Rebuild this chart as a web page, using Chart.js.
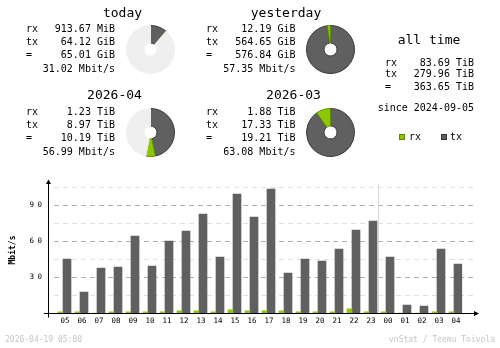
<!DOCTYPE html>
<html>
<head>
<meta charset="utf-8">
<title>vnStat summary</title>
<script src="https://cdn.jsdelivr.net/npm/chart.js@4.4.1/dist/chart.umd.min.js"></script>
<style>
  body { margin: 0; background: #fff; }
  #wrap { position: relative; width: 500px; height: 348px; overflow: hidden;
          font-family: "DejaVu Sans Mono", monospace; color: #000; background: #fff; }
  #hourChart { position: absolute; left: 0; top: 0; }
  .pie { position: absolute; }
  .t { position: absolute; white-space: pre; }
  .key { position: absolute; width: 6px; height: 6px; box-sizing: border-box; border: 1px solid; }
</style>
</head>
<body>
<div id="wrap"><canvas id="hourChart" width="500" height="348"></canvas></div>
<script>
// hourly traffic, last 24 h (Mbit/s)
const hours = ["05", "06", "07", "08", "09", "10", "11", "12", "13", "14", "15", "16",
               "17", "18", "19", "20", "21", "22", "23", "00", "01", "02", "03", "04"];
const rxRate = [0.9, 0.9, 0, 0.9, 0.9, 0.9, 0.9, 1.8, 1.8, 0.9, 2.6, 1.8,
                1.8, 1.8, 0.9, 0.9, 0.9, 3.4, 0.9, 0.9, 0, 0, 0.9, 0.9];
const txRate = [45, 17.5, 37.5, 38.3, 64.2, 39.2, 60, 68.3, 82.5, 46.7, 99.2, 80,
                103.3, 33.3, 45, 43.3, 53.3, 69.2, 76.7, 46.7, 6.7, 5.8, 53.3, 40.8];

// summary blocks
const periodNames = ["today", "yesterday", "2026-04", "2026-03"];
const rxAmounts = [913.67, 12.19, 1.23, 1.88];
const rxUnits = ["MiB", "GiB", "TiB", "TiB"];
const txAmounts = [64.12, 564.65, 8.97, 17.33];
const txUnits = ["GiB", "GiB", "TiB", "TiB"];
const totalAmounts = [65.01, 576.84, 10.19, 19.21];
const totalUnits = ["GiB", "GiB", "TiB", "TiB"];
const avgRates = [31.02, 57.35, 56.99, 63.08];
// period each pie is measured against (null = full circle)
const pieReference = [1, null, 3, null];

const allTimeAmounts = [83.69, 279.96, 363.65];
const allTimeUnit = "TiB";
const sinceDate = "2024-09-05";
const stampText = "2026-04-19 05:00";
const creditText = "vnStat / Teemu Toivola";

const rxColor = "#8cc800", rxEdge = "#5c8a00";
const txColor = "#606060", txEdge = "#383838";
const restColor = "#efefef";
const mono = '"DejaVu Sans Mono", monospace';
const unitScale = { MiB: 1 / 1024, GiB: 1, TiB: 1024 };

const wrap = document.getElementById("wrap");

function text(str, x, y, size, align, color) {
  const el = document.createElement("div");
  el.className = "t";
  el.textContent = str;
  el.style.fontSize = size + "px";
  el.style.lineHeight = size + "px";
  el.style.top = (y - size / 2) + "px";
  if (align === "right") el.style.right = (500 - x) + "px";
  else if (align === "center") {
    el.style.left = (x - 100) + "px";
    el.style.width = "200px";
    el.style.textAlign = "center";
  } else el.style.left = x + "px";
  if (color) el.style.color = color;
  wrap.appendChild(el);
}

function pie(left, top, values, colors, edges) {
  const c = document.createElement("canvas");
  c.width = 51;
  c.height = 51;
  c.className = "pie";
  c.style.left = left + "px";
  c.style.top = top + "px";
  wrap.appendChild(c);
  new Chart(c, {
    type: "doughnut",
    data: {
      datasets: [{ data: values, backgroundColor: colors, borderColor: edges, borderWidth: 1 }],
    },
    options: {
      responsive: false,
      animation: false,
      devicePixelRatio: 1,
      events: [],
      cutout: 6.5,
      layout: { padding: 1 },
      plugins: { legend: { display: false }, tooltip: { enabled: false } },
    },
  });
}

// where each block sits
const blocks = [
  { titleX: 122.5, titleY: 12, labelX: 26, valueX: 115, rowY: 0, pieX: 125, pieY: 24 },
  { titleX: 286, titleY: 12, labelX: 206, valueX: 295.5, rowY: 0, pieX: 305, pieY: 24 },
  { titleX: 114.5, titleY: 94, labelX: 26, valueX: 115, rowY: 83, pieX: 125, pieY: 107 },
  { titleX: 293.5, titleY: 94, labelX: 206, valueX: 295.5, rowY: 83, pieX: 305, pieY: 107 },
];
const rowOffsets = [29, 42, 55, 69];

periodNames.forEach((name, i) => {
  const b = blocks[i];
  text(name, b.titleX, b.titleY, 13, "center");
  const rows = [
    ["rx", rxAmounts[i].toFixed(2) + " " + rxUnits[i]],
    ["tx", txAmounts[i].toFixed(2) + " " + txUnits[i]],
    ["=", totalAmounts[i].toFixed(2) + " " + totalUnits[i]],
    ["", avgRates[i].toFixed(2) + " Mbit/s"],
  ];
  rows.forEach((r, j) => {
    const y = b.rowY + rowOffsets[j];
    if (r[0]) text(r[0], b.labelX, y, 10, "left");
    text(r[1], b.valueX, y, 10, "right");
  });

  const tx = txAmounts[i] * unitScale[txUnits[i]];
  const rx = rxAmounts[i] * unitScale[rxUnits[i]];
  const values = [tx, rx];
  const colors = [txColor, rxColor];
  const edges = [txEdge, rxEdge];
  const ref = pieReference[i];
  if (ref !== null) {
    const refTotal = totalAmounts[ref] * unitScale[totalUnits[ref]];
    values.push(refTotal - totalAmounts[i] * unitScale[totalUnits[i]]);
    colors.push(restColor);
    edges.push(restColor);
  }
  pie(b.pieX, b.pieY, values, colors, edges);
});

// all time column
text("all time", 429, 39, 13, "center");
["rx", "tx", "="].forEach((lab, j) => {
  const y = [62.5, 74, 86.5][j];
  text(lab, 385, y, 10, "left");
  text(allTimeAmounts[j].toFixed(2) + " " + allTimeUnit, 474, y, 10, "right");
});
text("since " + sinceDate, 474, 107.5, 10, "right");

// legend
function key(x, fill, edge) {
  const k = document.createElement("div");
  k.className = "key";
  k.style.left = x + "px";
  k.style.top = "134px";
  k.style.background = fill;
  k.style.borderColor = edge;
  wrap.appendChild(k);
}
key(399, rxColor, rxEdge);
text("rx", 409, 136.5, 10, "left");
key(441, txColor, "#303030");
text("tx", 450, 136.5, 10, "left");

text(stampText, 5, 340, 8, "left", "#c4c4c4");
text(creditText, 495, 340, 8, "right", "#c4c4c4");

// grid, separator, axes with arrows and y labels
const hourDecor = {
  id: "hourDecor",
  beforeDatasetsDraw(chart) {
    const { ctx, scales: { x, y } } = chart;
    ctx.save();
    ctx.lineWidth = 1;
    ctx.setLineDash([5, 4]);
    y.ticks.forEach((t) => {
      if (t.value === 0) return;
      const py = Math.round(y.getPixelForValue(t.value)) + 0.5;
      ctx.strokeStyle = t.value % 30 === 0 ? "#b0b0b0" : "#e0e0e0";
      ctx.beginPath();
      ctx.moveTo(54, py);
      ctx.lineTo(474, py);
      ctx.stroke();
    });
    ctx.setLineDash([]);
    const i = hours.indexOf("00");
    const sx = Math.round(x.getPixelForValue(i) - x.width / hours.length / 2) + 0.5;
    ctx.strokeStyle = "#d8d8d8";
    ctx.beginPath();
    ctx.moveTo(sx, 184);
    ctx.lineTo(sx, y.bottom);
    ctx.stroke();
    ctx.restore();
  },
  afterDatasetsDraw(chart) {
    const { ctx, scales: { y } } = chart;
    const base = Math.round(y.getPixelForValue(0)) + 0.5;
    ctx.save();
    ctx.strokeStyle = "#000";
    ctx.fillStyle = "#000";
    ctx.lineWidth = 1;
    ctx.beginPath();
    ctx.moveTo(48.5, base + 4);
    ctx.lineTo(48.5, 183);
    ctx.moveTo(44, base);
    ctx.lineTo(475, base);
    ctx.stroke();
    ctx.beginPath();
    ctx.moveTo(46, 184);
    ctx.lineTo(51, 184);
    ctx.lineTo(48.5, 179.5);
    ctx.closePath();
    ctx.fill();
    ctx.beginPath();
    ctx.moveTo(474, base - 2.5);
    ctx.lineTo(474, base + 2.5);
    ctx.lineTo(479, base);
    ctx.closePath();
    ctx.fill();

    ctx.font = "7.5px " + mono;
    ctx.letterSpacing = "3.5px";
    ctx.textAlign = "left";
    ctx.textBaseline = "middle";
    y.ticks.forEach((t) => {
      if (t.value === 0 || t.value % 30 !== 0) return;
      ctx.fillText(String(t.value), 29.5, y.getPixelForValue(t.value));
    });
    ctx.restore();
  },
};

new Chart(document.getElementById("hourChart"), {
  type: "bar",
  data: {
    labels: hours,
    datasets: [
      { label: "rx", data: rxRate, backgroundColor: rxColor, barThickness: 5 },
      { label: "tx", data: txRate, backgroundColor: txColor, barThickness: 8 },
    ],
  },
  options: {
    responsive: false,
    animation: false,
    devicePixelRatio: 1,
    events: [],
    layout: { padding: { top: 187, right: 37.5, bottom: 0, left: 0 } },
    scales: {
      x: {
        grid: { display: false, drawTicks: false },
        border: { display: false },
        ticks: {
          color: "#000",
          font: { family: mono, size: 7.5 },
          padding: 4,
          labelOffset: 2,
          maxRotation: 0,
          autoSkip: false,
        },
        afterFit: (s) => { s.height = 35; },
      },
      y: {
        min: 0,
        max: 105,
        ticks: { stepSize: 15, display: false },
        grid: { display: false },
        border: { display: false },
        title: {
          display: true,
          text: "Mbit/s",
          color: "#000",
          font: { family: mono, size: 8, weight: "bold" },
          padding: { top: 8.5, bottom: 0 },
        },
        afterFit: (s) => { s.width = 54.5; },
      },
    },
    plugins: { legend: { display: false }, tooltip: { enabled: false } },
  },
  plugins: [hourDecor],
});
</script>
</body>
</html>
